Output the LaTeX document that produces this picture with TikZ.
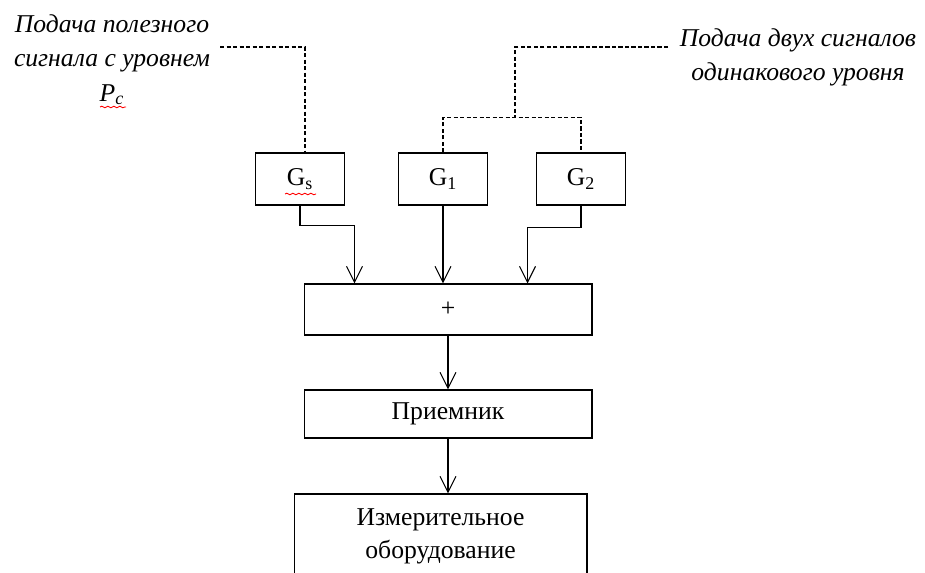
\documentclass[tikz,border=0pt]{standalone}
\usepackage{fontspec}
\setmainfont{Liberation Serif}
\usetikzlibrary{calc}
\usetikzlibrary{arrows.meta}
\usetikzlibrary{decorations.pathmorphing}
\tikzset{
	block/.style={draw, line width=0.6pt, minimum height=1.04cm, inner sep=0pt},
	arr/.style={line width=0.6pt, -{Straight Barb[length=3.2mm, width=3.2mm, line width=0.6pt]}},
	dashline/.style={line width=0.6pt, dash pattern=on 2.5pt off 1.2pt},
	caption/.style={align=center, font=\fontsize{14.6}{19.5}\selectfont\itshape},
	spellmark/.style={red, line width=0.5pt, decorate, decoration={snake, segment length=1.2mm, amplitude=0.45pt}}
}

\begin{document}
\begin{tikzpicture}[x=0.02cm, y=-0.02cm, font=\fontsize{14.6}{18.7}\selectfont]
	\useasboundingbox (0,0) rectangle (925,573);

	% generators
	\foreach \n/\x/\t in {
		gs/300/G\textsubscript{s},
		g1/443/G\textsubscript{1},
		g2/581/G\textsubscript{2}
	}{
		\node[block, minimum width=1.78cm] (\n) at (\x, 179) {\t};
	}

	% adder, receiver, measuring equipment
	\node[block, minimum width=5.76cm, minimum height=1.02cm] (sum) at (448, 309.5) {+};
	\node[block, minimum width=5.76cm, minimum height=0.96cm] (prm) at (448, 414) {Приемник};
	\node[block, minimum width=5.86cm, minimum height=1.7cm, align=center] (meas) at (440.5, 536.5) {Измерительное\\оборудование};

	% captions
	\node[caption] (ltxt) at (112, 60) {Подача полезного\\сигнала с уровнем\\P\textsubscript{с}};
	\node[caption] (rtxt) at (798, 57.5) {Подача двух сигналов\\одинакового уровня};
	\coordinate (lend) at (220, 47);
	\coordinate (rend) at (668, 47);
	\coordinate (rjoin) at (515, 118);

	% spelling marks
	\draw[spellmark] (285, 194) -- (316, 194);
	\draw[spellmark] (100, 107) -- (126, 107);

	% signal lines
	\draw[arr] (gs.south) -- ++(0, 20) -| ([xshift=1.02cm]sum.north west);
	\draw[arr] (g1.south) -- (g1.south |- sum.north);
	\draw[arr] (g2.south) -- ++(0, 22) -| ([xshift=-1.3cm]sum.north east);
	\draw[arr] (sum.south) -- (prm.north);
	\draw[arr] (prm.south) -- (prm.south |- meas.north);

	% feeds
	\draw[dashline] (lend) -| ([xshift=0.1cm]gs.north);
	\draw[dashline] (rend) -| (rjoin);
	\draw[dashline] (g1.north) -- ++(0, -35) -| (g2.north);
\end{tikzpicture}
\end{document}
